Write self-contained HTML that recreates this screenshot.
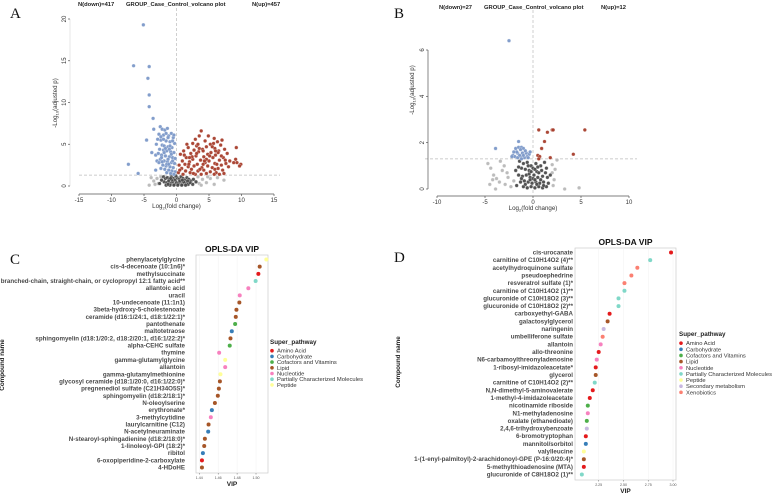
<!DOCTYPE html>
<html><head><meta charset="utf-8"><style>
html,body{margin:0;padding:0;background:#fff;}
svg{display:block;font-family:"Liberation Sans",sans-serif;}
</style></head><body>
<svg id="fig" width="784" height="495" viewBox="0 0 784 495"></svg>
<script>
// ---------- DATA ----------
const aDownPts=[[-5.1,19.3],[-6.6,14.4],[-4.2,14.3],[-4.4,12.9],[-4.2,10.9],[-4.2,9.5],[-3.6,8.1],[-3.5,6.8],[-4.6,5.5],[-7.4,2.6],[-5.9,1.5],[-3.8,4.0],[-3.2,3.7],[-3.0,3.0],[-3.2,1.9],
[-2.5,7.1],[-2.2,6.8],[-1.8,6.7],[-1.4,6.9],[-0.8,6.3],[-2.7,6.2],[-2,6.1],[-1.2,6],[-0.5,5.8],[-2.9,5.6],[-2.4,5.5],[-1.6,5.4],[-1,5.3],[-0.3,5.1],[-3.1,5.0],[-2.2,4.9],[-1.9,4.8],[-1.3,4.7],[-0.7,4.6],[-2.6,4.4],[-2,4.3],[-1.5,4.2],[-0.9,4.1],[-0.4,4],[-2.8,3.9],[-2.3,3.7],[-1.7,3.6],[-1.1,3.5],[-0.6,3.4],[-0.2,3.3],[-2.5,3.2],[-1.9,3.0],[-1.4,2.9],[-0.8,2.8],[-0.3,2.7],[-2.1,2.5],[-1.6,2.4],[-1,2.3],[-0.5,2.2],[-1.8,2],[-1.2,1.9],[-0.7,1.8],[-0.2,1.7],[-1.5,1.6],[-0.9,1.5],[-0.4,1.4],[-2.4,2.1],[-2.7,2.8],[-1.3,5.8],[-0.6,5.4],[-1.7,4.5],[-1.1,4.4],[-2.3,3.4],[-1.3,3.2],[-0.8,3.8],[-1.5,2.6],[-2.0,5.6],[-0.4,6.1],[-2.4,5.9],[-1.6,6.3],[-1.9,4.0],[-1.2,2.6],[-0.6,3.0],[-2.2,2.9],[-1.0,4.8]];
const aUpPts=[[3.8,6.6],[3.5,6],[5.8,5.7],[7,5.5],[6.3,5.3],[4.4,5.4],[2.5,5.1],[5.2,5.0],[6.8,4.9],[3.1,4.8],[4.6,4.7],[1.8,4.6],[5.9,4.5],[7.4,4.4],[2.7,4.3],[4,4.4],[6.5,4.2],[1.1,4.2],[3.4,4.1],[5.3,4.0],[7.8,3.9],[2.2,3.9],[4.8,3.8],[6,3.7],[0.6,3.8],[3.0,3.6],[4.2,3.5],[5.6,3.4],[7.2,3.4],[1.5,3.4],[2.5,3.2],[3.7,3.1],[6.6,3.1],[8.2,3.0],[0.9,3.0],[5,3.0],[2.0,2.9],[4.4,2.8],[5.9,2.7],[7.6,2.7],[1.3,2.6],[3.2,2.6],[6.9,2.5],[0.4,2.5],[2.7,2.4],[4.8,2.4],[8,2.3],[1.8,2.3],[3.9,2.2],[5.5,2.2],[6.4,2.1],[0.8,2.1],[2.3,2.0],[4.2,1.9],[7.1,1.9],[1.4,1.8],[3.3,1.8],[5.2,1.7],[6.1,1.6],[0.3,1.6],[2.1,1.6],[4.6,1.5],[7.3,1.5],[1.0,1.4],[2.9,1.4],[3.8,1.4],[5.8,1.4],[1.6,5.0],[2.9,5.6],[4.9,6.0],[5.5,4.7],[4.1,4.2],[3.1,3.9],[6.4,4.0],[2.4,3.5],[1.9,2.6],[4.1,2.6],[3.6,2.0],[5.9,2.0],[6.9,3.6],[4.6,3.2],[8.8,2.8],[9.2,4.6],[9.9,2.6],[9.7,2.4],[9.1,3.2],[9.3,2.8],[0.5,1.9],[2.6,1.5],[6.6,1.4],[3.5,4.5],[5.1,3.6],[2.0,3.4],[4.3,3.0],[6.2,2.6],[7.5,3.1],[1.2,3.7],[3.3,5.0],[5.7,5.1],[6.0,4.2]];
const aNsDark=[[-2,1.1],[-1.7,0.9],[-1.4,1.0],[-1.1,0.8],[-0.8,1.1],[-0.5,0.9],[-0.2,0.7],[0.1,1.0],[0.4,0.8],[0.7,1.1],[1.0,0.9],[1.3,0.7],[1.6,1.0],[1.9,0.8],[2.2,0.6],[-1.9,0.5],[-1.5,0.4],[-1.2,0.6],[-0.9,0.3],[-0.6,0.5],[-0.3,0.2],[0,0.4],[0.3,0.3],[0.6,0.5],[0.9,0.2],[1.2,0.4],[1.5,0.3],[1.8,0.2],[2.1,0.4],[-1.6,0.1],[-1,0.1],[-0.4,0.1],[0.2,0.1],[0.8,0.1],[1.4,0.1],[2.5,0.2],[-2.3,0.7],[2.6,0.8],[-0.7,0.7],[0.5,0.6],[1.1,0.5],[-1.3,0.2],[3,0.5],[-2.6,0.3],[-0.1,1.2],[0.9,0.7],[1.7,0.6],[-0.9,0.9]];
const aNsLight=[[-4.2,0.1],[-3.5,0.6],[-3,0.9],[-2.8,0.3],[-3.9,1.0],[3.5,0.3],[4,0.8],[4.6,0.4],[5.2,0.9],[5.8,0.2],[6.3,1.0],[7.3,0.7],[3.3,1.1],[4.8,1.1],[-3.3,0.2],[-2.4,1.1],[3.8,0.1]];
const bDownPts=[[-2.5,6.4],[-3.9,1.75],[-1.5,2.05],[-1.8,1.75],[-1.5,1.8],[-1.2,1.8],[-1,1.75],[-1.3,1.7],[-2.1,1.45],[-1.9,1.4],[-1.6,1.55],[-1.1,1.55],[-0.7,1.55],[-0.4,1.5],[-0.6,1.4],[-1.3,1.4],[-0.9,1.35],[-1.7,1.6],[-2.0,1.6],[-1.4,1.45],[-0.8,1.65],[-0.5,1.35],[-1.2,1.3],[-1.6,1.35],[-2.2,1.4],[-1.0,1.45],[-0.3,1.6]];
const bUpPts=[[0.6,2.55],[2.0,2.55],[2.1,2.55],[5.4,2.55],[1.5,2.45],[1.2,2.05],[0.9,1.75],[4.2,1.5],[0.5,1.45],[0.7,1.4],[1.8,1.35],[0.6,1.3]];
const bNsDark=[[-1.4,1.2],[-1,1.1],[-0.6,1.15],[-0.2,1.0],[0.3,1.1],[0.8,1.0],[1.2,1.15],[-1.2,0.9],[-0.8,0.85],[-0.4,0.8],[0,0.9],[0.4,0.75],[0.9,0.8],[1.4,0.9],[-1.5,0.6],[-1.1,0.55],[-0.7,0.6],[-0.3,0.5],[0.1,0.6],[0.5,0.5],[1.0,0.55],[1.5,0.5],[-1.3,0.3],[-0.9,0.35],[-0.5,0.3],[-0.1,0.25],[0.3,0.3],[0.7,0.25],[1.1,0.3],[1.6,0.25],[-1.0,0.1],[-0.6,0.05],[-0.2,0.1],[0.2,0.05],[0.6,0.1],[1.0,0.05],[1.4,0.1],[-1.7,0.15],[-0.4,0.65],[0.6,0.7],[-0.8,0.2],[0.4,0.2],[1.8,0.6],[-1.8,0.8],[0.0,0.45],[-0.2,0.75],[0.2,0.85],[-1.2,0.45],[0.8,0.4],[1.3,0.7],[-0.5,1.0],[0.5,0.95],[-1.5,0.95],[1.1,0.15],[-0.3,0.4],[0.2,0.4]];
const bNsLight=[[-4.7,1.1],[-4.4,0.9],[-4.1,0.6],[-3.8,0.45],[-3.5,0.3],[-3.2,0.8],[-2.9,0.2],[-2.6,0.5],[-2.3,0.1],[-4.5,0.2],[-3.9,0.0],[-3.0,1.0],[-2.0,0.35],[2.0,1.05],[2.3,0.85],[2.2,0.4],[2.5,1.25],[2.1,0.15],[3.3,0.0],[4.8,0.05],[-2.7,0.7],[-4.2,0.4],[2.0,0.7],[-3.4,1.2]];

const cNames=["phenylacetylglycine","cis-4-decenoate (10:1n6)*","methylsuccinate","branched-chain, straight-chain, or cyclopropyl 12:1 fatty acid**","allantoic acid","uracil","10-undecenoate (11:1n1)","3beta-hydroxy-5-cholestenoate","ceramide (d16:1/24:1, d18:1/22:1)*","pantothenate","maltotetraose","sphingomyelin (d18:1/20:2, d18:2/20:1, d16:1/22:2)*","alpha-CEHC sulfate","thymine","gamma-glutamylglycine","allantoin","gamma-glutamylmethionine","glycosyl ceramide (d18:1/20:0, d16:1/22:0)*","pregnenediol sulfate (C21H34O5S)*","sphingomyelin (d18:2/18:1)*","N-oleoylserine","erythronate*","3-methylcytidine","laurylcarnitine (C12)","N-acetylneuraminate","N-stearoyl-sphingadienine (d18:2/18:0)*","1-linoleoyl-GPI (18:2)*","ribitol","6-oxopiperidine-2-carboxylate","4-HDoHE"];
const cVip=[1.5109,1.5039,1.5025,1.4996,1.4919,1.4828,1.4824,1.4793,1.4786,1.4779,1.4744,1.4730,1.4722,1.4610,1.4674,1.4674,1.4624,1.4618,1.4607,1.4596,1.4565,1.4533,1.4522,1.4498,1.4494,1.4459,1.4452,1.4438,1.4428,1.4428];
const cGroup=["Peptide","Lipid","Amino Acid","Partially Characterized Molecules","Nucleotide","Nucleotide","Lipid","Lipid","Lipid","Cofactors and Vitamins","Carbohydrate","Lipid","Cofactors and Vitamins","Nucleotide","Peptide","Nucleotide","Peptide","Lipid","Lipid","Lipid","Lipid","Carbohydrate","Nucleotide","Lipid","Carbohydrate","Lipid","Lipid","Carbohydrate","Amino Acid","Lipid"];
const cTicks=[1.44,1.46,1.48,1.50];
const cTickLabels=["1.44","1.46","1.48","1.50"];
const cLegend=["Amino Acid","Carbohydrate","Cofactors and Vitamins","Lipid","Nucleotide","Partially Characterized Molecules","Peptide"];

const dNames=["cis-urocanate","carnitine of C10H14O2 (4)**","acetylhydroquinone sulfate","pseudoephedrine","resveratrol sulfate (1)*","carnitine of C10H14O2 (1)**","glucuronide of C10H18O2 (3)**","glucuronide of C10H18O2 (2)**","carboxyethyl-GABA","galactosylglycerol","naringenin","umbelliferone sulfate","allantoin","allo-threonine","N6-carbamoylthreonyladenosine","1-ribosyl-imidazoleacetate*","glycerol","carnitine of C10H14O2 (2)**","N,N-dimethyl-5-aminovalerate","1-methyl-4-imidazoleacetate","nicotinamide riboside","N1-methyladenosine","oxalate (ethanedioate)","2,4,6-trihydroxybenzoate","6-bromotryptophan","mannitol/sorbitol","valylleucine","1-(1-enyl-palmitoyl)-2-arachidonoyl-GPE (P-16:0/20:4)*","5-methylthioadenosine (MTA)","glucuronide of C8H18O2 (1)**"];
const dVip=[2.98,2.77,2.64,2.58,2.51,2.51,2.45,2.45,2.36,2.34,2.30,2.29,2.27,2.25,2.23,2.22,2.22,2.21,2.19,2.16,2.14,2.14,2.13,2.13,2.12,2.12,2.10,2.10,2.10,2.08];
const dGroup=["Amino Acid","Partially Characterized Molecules","Xenobiotics","Xenobiotics","Xenobiotics","Partially Characterized Molecules","Partially Characterized Molecules","Partially Characterized Molecules","Amino Acid","Lipid","Secondary metabolism","Xenobiotics","Nucleotide","Amino Acid","Nucleotide","Amino Acid","Lipid","Partially Characterized Molecules","Amino Acid","Amino Acid","Cofactors and Vitamins","Nucleotide","Cofactors and Vitamins","Secondary metabolism","Amino Acid","Carbohydrate","Peptide","Lipid","Amino Acid","Partially Characterized Molecules"];
const dTicks=[2.25,2.50,2.75,3.00];
const dTickLabels=["2.25","2.50","2.75","3.00"];
const dLegend=["Amino Acid","Carbohydrate","Cofactors and Vitamins","Lipid","Nucleotide","Partially Characterized Molecules","Peptide","Secondary metabolism","Xenobiotics"];

const aXTicks=[-15,-10,-5,0,5,10,15];
const aYTicks=[0,5,10,15,20];
const bXTicks=[-10,-5,0,5,10];
const bYTicks=[0,2,4,6];

const COL={"Amino Acid":"#e41a1c","Carbohydrate":"#377eb8","Cofactors and Vitamins":"#4daf4a","Lipid":"#a65628","Nucleotide":"#f781bf","Partially Characterized Molecules":"#80d8c8","Peptide":"#ffff99","Secondary metabolism":"#c8b8e0","Xenobiotics":"#fb8072"};

// ---------- DRAW ----------
const NS="http://www.w3.org/2000/svg";
const svg=document.getElementById("fig");
function mk(tag,attrs,parent,text){const e=document.createElementNS(NS,tag);for(const k in attrs)e.setAttribute(k,attrs[k]);if(text!==undefined)e.textContent=text;(parent||svg).appendChild(e);return e;}

[["A",10,18],["B",394,18],["C",10,264],["D",394,262]].forEach(p=>{
  const t=mk("text",{x:p[1],y:p[2],"font-family":"Liberation Serif,serif","font-size":15,fill:"#111"},svg,p[0]);
  
  
});

function volcano(cfg){
  const g=mk("g",{});
  
  
  const sx=v=>cfg.x0+(v-cfg.xmin)*(cfg.x1-cfg.x0)/(cfg.xmax-cfg.xmin);
  const sy=v=>cfg.y0-(v-cfg.ymin)*(cfg.y0-cfg.y1)/(cfg.ymax-cfg.ymin);
  cfg.titles.forEach(t=>{
    const e=mk("text",{x:t[1],y:cfg.ty,"font-size":5.8,"font-weight":"bold",fill:"#222"},g,t[0]);
    
    
  });
  const hl=mk("line",{x1:cfg.hx0,x2:cfg.hx1,y1:sy(1.3),y2:sy(1.3),stroke:"#bbb","stroke-width":0.7,"stroke-dasharray":"3,2"},g);
  
  
  const vl=mk("line",{x1:sx(0),x2:sx(0),y1:cfg.vy0,y2:cfg.y0+4,stroke:"#bbb","stroke-width":0.7,"stroke-dasharray":"3,2"},g);
  
  
  const groups=[[cfg.nsLight,"#b8b8b8","ns-light"],[cfg.nsDark,"#4a4a4a","ns-dark"],[cfg.down,"#7b98c8","down"],[cfg.up,"#a63d2b","up"]];
  groups.forEach(gr=>{
    gr[0].forEach(p=>{
      const c=mk("circle",{cx:sx(p[0]),cy:sy(p[1]),r:cfg.r,fill:gr[1],stroke:"#fff","stroke-width":0.25,"fill-opacity":0.95},g);
      
      
    });
  });
  const xa=mk("line",{x1:sx(cfg.xmin),x2:sx(cfg.xmax),y1:cfg.xay,y2:cfg.xay,stroke:"#555","stroke-width":0.7},g);
  
  
  cfg.xticks.forEach(v=>{
    mk("line",{x1:sx(v),x2:sx(v),y1:cfg.xay,y2:cfg.xay+2,stroke:"#555","stroke-width":0.7},g);
    const t=mk("text",{x:sx(v),y:cfg.xay+8,"font-size":6,"text-anchor":"middle",fill:"#333"},g,String(v));
    
    
  });
  const ya=mk("line",{x1:cfg.yax,x2:cfg.yax,y1:sy(cfg.yticks[0]),y2:sy(cfg.yticks[cfg.yticks.length-1]),stroke:cfg.yline,"stroke-width":0.7},g);
  
  
  cfg.yticks.forEach(v=>{
    mk("line",{x1:cfg.yax-2,x2:cfg.yax,y1:sy(v),y2:sy(v),stroke:"#555","stroke-width":0.7},g);
    const t=mk("text",{x:cfg.yax-4,y:sy(v),"font-size":6,"text-anchor":"middle",fill:"#333",transform:`rotate(-90 ${cfg.yax-4} ${sy(v)})`},g,String(v));
    
    
  });
  const xt=mk("text",{x:sx(0),y:cfg.xay+14,"font-size":6.2,"text-anchor":"middle",fill:"#333"},g);
  xt.innerHTML='Log<tspan font-size="4" dy="1.5">2</tspan><tspan dy="-1.5">(fold change)</tspan>';
  
  
  const yt=mk("text",{x:cfg.ytx,y:cfg.yty,"font-size":6.2,"text-anchor":"middle",fill:"#333",transform:`rotate(-90 ${cfg.ytx} ${cfg.yty})`},g);
  yt.innerHTML='-Log<tspan font-size="4" dy="1.5">10</tspan><tspan dy="-1.5">(adjusted p)</tspan>';
  
  
}

volcano({name:"volcano-a",xmin:-15,xmax:15,ymin:0,ymax:20,x0:79,x1:274,y0:186,y1:19,r:1.8,
  down:aDownPts,up:aUpPts,nsDark:aNsDark,nsLight:aNsLight,
  titles:[["N(down)=417",78,"n-down-label"],["GROUP_Case_Control_volcano plot",126,"volcano-title"],["N(up)=457",252,"n-up-label"]],ty:6,
  hx0:79,hx1:280,vy0:8,xay:194,yax:70,yline:"#ddd",xticks:aXTicks,yticks:aYTicks,ytx:57,yty:103});
volcano({name:"volcano-b",xmin:-10,xmax:10,ymin:0,ymax:6,x0:437,x1:629,y0:189,y1:50,r:1.8,
  down:bDownPts,up:bUpPts,nsDark:bNsDark,nsLight:bNsLight,
  titles:[["N(down)=27",439,"n-down-label"],["GROUP_Case_Control_volcano plot",484,"volcano-title"],["N(up)=12",601,"n-up-label"]],ty:9,
  hx0:425,hx1:637,vy0:10,xay:196,yax:428,yline:"#555",xticks:bXTicks,yticks:bYTicks,ytx:414,yty:90});

function vip(cfg){
  const g=mk("g",{});
  
  
  const sx=v=>cfg.tx0+(v-cfg.ticks[0])*(cfg.tx1-cfg.tx0)/(cfg.ticks[cfg.ticks.length-1]-cfg.ticks[0]);
  const n=cfg.names.length;
  const sy=i=>cfg.ry0+i*(cfg.ry1-cfg.ry0)/(n-1);
  const bg=mk("rect",{x:cfg.px0,y:cfg.py0,width:cfg.px1-cfg.px0,height:cfg.py1-cfg.py0,fill:"#fff",stroke:"#ccc","stroke-width":0.7},g);
  
  
  cfg.ticks.forEach((v,i)=>{
    mk("line",{x1:sx(v),x2:sx(v),y1:cfg.py0,y2:cfg.py1,stroke:"#f0f0f0","stroke-width":0.5},g);
    mk("line",{x1:sx(v),x2:sx(v),y1:cfg.py1,y2:cfg.py1+1.5,stroke:"#666","stroke-width":0.5},g);
    const t=mk("text",{x:sx(v),y:cfg.py1+6,"font-size":3.6,"text-anchor":"middle",fill:"#555"},g,cfg.tickLabels[i]);
    
    
  });
  cfg.names.forEach((nm,i)=>{
    const t=mk("text",{x:cfg.labelX,y:sy(i)+2,"font-size":6.2,"font-weight":"bold","text-anchor":"end",fill:"#4a4a4a"},g,nm);
    
    
    const c=mk("circle",{cx:sx(cfg.vals[i]),cy:sy(i),r:2,fill:COL[cfg.groups[i]]},g);
    
    
  });
  const ti=mk("text",{x:(cfg.px0+cfg.px1)/2,y:cfg.py0-3,"font-size":8.5,"font-weight":"bold","text-anchor":"middle",fill:"#111"},g,"OPLS-DA VIP");
  
  
  const xt=mk("text",{x:(cfg.px0+cfg.px1)/2,y:cfg.py1+13,"font-size":6.5,"font-weight":"bold","text-anchor":"middle",fill:"#222"},g,"VIP");
  
  
  const yt=mk("text",{x:cfg.ytx,y:cfg.yty,"font-size":6.3,"font-weight":"bold","text-anchor":"middle",fill:"#222",transform:`rotate(-90 ${cfg.ytx} ${cfg.yty})`},g,"Compound name");
  
  
  const lt=mk("text",{x:cfg.lx,y:cfg.ly,"font-size":6.3,"font-weight":"bold",fill:"#222"},g,"Super_pathway");
  
  
  cfg.legend.forEach((l,i)=>{
    const y=cfg.ly+cfg.lstep*(i+1)+1;
    const c=mk("circle",{cx:cfg.lx+2,cy:y,r:1.8,fill:COL[l]},g);
    
    
    const t=mk("text",{x:cfg.lx+7,y:y+2,"font-size":5.8,fill:"#333"},g,l);
    
    
  });
}
vip({name:"vip-chart-c",names:cNames,vals:cVip,groups:cGroup,ticks:cTicks,tickLabels:cTickLabels,legend:cLegend,labelX:185,
  tx0:199.3,tx1:256,px0:196,px1:268,py0:255,py1:473,ry0:259.5,ry1:467.5,ytx:4,yty:365,lx:270,ly:344,lstep:5.7});
vip({name:"vip-chart-d",names:dNames,vals:dVip,groups:dGroup,ticks:dTicks,tickLabels:dTickLabels,legend:dLegend,labelX:573,
  tx0:598.7,tx1:673,px0:575,px1:676,py0:248,py1:480,ry0:252.5,ry1:474.5,ytx:400,yty:362,lx:679,ly:336,lstep:6.15});
</script>
</body></html>
